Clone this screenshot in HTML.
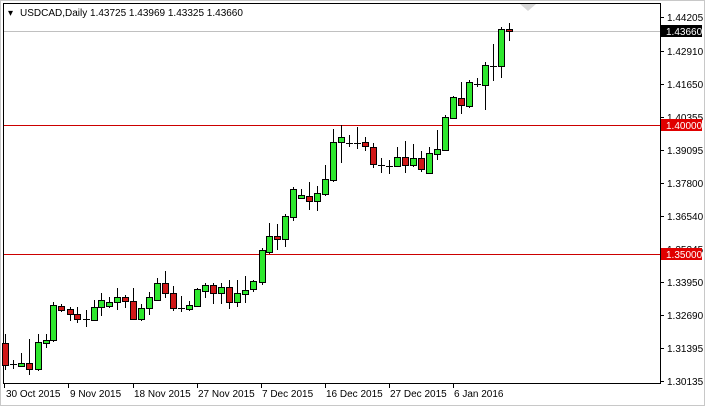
<!DOCTYPE html>
<html><head><style>
body{margin:0;background:#fff;}
svg{display:block;font-family:"Liberation Sans",sans-serif;}
.g{fill:#2ee82e}.r{fill:#d01818}
</style></head><body>
<svg width="705" height="406" xmlns="http://www.w3.org/2000/svg">
<rect x="0" y="0" width="705" height="406" fill="#fff"/>
<rect x="0.5" y="0.5" width="704" height="405" fill="none" stroke="#c8c8c8"/>
<line x1="3.5" y1="3" x2="3.5" y2="383" stroke="#000"/>
<line x1="3" y1="3.5" x2="661" y2="3.5" stroke="#000"/>
<line x1="660.5" y1="3" x2="660.5" y2="384" stroke="#000"/>
<line x1="3" y1="383.5" x2="661" y2="383.5" stroke="#000"/>
<polygon points="520,4 536,4 528,11" fill="#d8d8d8"/>
<text x="8" y="16" font-size="10" fill="#000">▾</text>
<text x="20" y="16" font-size="10" fill="#000">USDCAD,Daily  1.43725 1.43969 1.43325 1.43660</text>
<line x1="4" y1="31.5" x2="660" y2="31.5" stroke="#c0c0c0"/>
<line x1="4" y1="125.5" x2="660" y2="125.5" stroke="#cc0000"/>
<line x1="4" y1="254.5" x2="660" y2="254.5" stroke="#cc0000"/>
<g stroke="#000" stroke-width="1">
<path d="M5.5 334V370M13.5 360V369M21.5 353V367M29.5 339V375M38.5 334V371M46.5 334V348M53.5 302V342M61.5 304V312M70.5 307V321M77.5 307V323M86.5 310V327M94.5 300V320M101.5 293V316M109.5 297V308M117.5 288V310M125.5 295V308M133.5 288V320M141.5 304V321M149.5 292V315M157.5 278V300M165.5 271V298M173.5 286V311M181.5 296V312M189.5 301V311M197.5 288V306M205.5 283V298M213.5 283V304M221.5 283V304M229.5 280V309M237.5 280V307M245.5 276V303M253.5 280V292M262.5 248V285M269.5 223V254M277.5 224V250M285.5 214V247M293.5 187V221M301.5 189V199M309.5 182V210M317.5 186V211M325.5 165V196M333.5 129V182M341.5 125V163M349.5 135V147M357.5 127V149M365.5 137V151M373.5 143V168M381.5 158V173M389.5 160V174M397.5 147V167M405.5 141V173M413.5 144V167M421.5 151V172M429.5 147V174M437.5 130V160M445.5 115V151M453.5 96V119M461.5 82V114M469.5 80V108M477.5 78V87M485.5 62V110M493.5 44V81M501.5 27V78M509.5 23V41"/>
<path d="M10 364.5H17M83 319.5H90M178 308.5H185M346 143.5H353M354 143.5H361M378 165.5H385M386 166.5H393M474 84.5H481M490 66.5H497"/>
<rect class="r" x="2.5" y="343.5" width="6" height="22"/>
<rect class="g" x="18.5" y="363.5" width="6" height="3"/>
<rect class="r" x="26.5" y="363.5" width="6" height="6"/>
<rect class="g" x="35.5" y="342.5" width="6" height="27"/>
<rect class="g" x="43.5" y="340.5" width="6" height="3"/>
<rect class="g" x="50.5" y="305.5" width="6" height="35"/>
<rect class="r" x="58.5" y="306.5" width="6" height="4"/>
<rect class="r" x="67.5" y="309.5" width="6" height="5"/>
<rect class="r" x="74.5" y="314.5" width="6" height="5"/>
<rect class="g" x="91.5" y="307.5" width="6" height="13"/>
<rect class="g" x="98.5" y="300.5" width="6" height="7"/>
<rect class="g" x="106.5" y="302.5" width="6" height="4"/>
<rect class="g" x="114.5" y="297.5" width="6" height="5"/>
<rect class="r" x="122.5" y="297.5" width="6" height="4"/>
<rect class="r" x="130.5" y="301.5" width="6" height="18"/>
<rect class="g" x="138.5" y="308.5" width="6" height="11"/>
<rect class="g" x="146.5" y="297.5" width="6" height="11"/>
<rect class="g" x="154.5" y="283.5" width="6" height="17"/>
<rect class="r" x="162.5" y="283.5" width="6" height="10"/>
<rect class="r" x="170.5" y="293.5" width="6" height="15"/>
<rect class="g" x="186.5" y="305.5" width="6" height="4"/>
<rect class="g" x="194.5" y="289.5" width="6" height="17"/>
<rect class="g" x="202.5" y="285.5" width="6" height="6"/>
<rect class="r" x="210.5" y="285.5" width="6" height="8"/>
<rect class="g" x="218.5" y="287.5" width="6" height="6"/>
<rect class="r" x="226.5" y="287.5" width="6" height="15"/>
<rect class="g" x="234.5" y="293.5" width="6" height="9"/>
<rect class="g" x="242.5" y="290.5" width="6" height="4"/>
<rect class="g" x="250.5" y="281.5" width="6" height="8"/>
<rect class="g" x="259.5" y="250.5" width="6" height="32"/>
<rect class="g" x="266.5" y="236.5" width="6" height="16"/>
<rect class="r" x="274.5" y="236.5" width="6" height="3"/>
<rect class="g" x="282.5" y="216.5" width="6" height="23"/>
<rect class="g" x="290.5" y="189.5" width="6" height="28"/>
<rect class="g" x="298.5" y="195.5" width="6" height="3"/>
<rect class="r" x="306.5" y="196.5" width="6" height="5"/>
<rect class="g" x="314.5" y="193.5" width="6" height="8"/>
<rect class="g" x="322.5" y="179.5" width="6" height="15"/>
<rect class="g" x="330.5" y="142.5" width="6" height="38"/>
<rect class="g" x="338.5" y="137.5" width="6" height="5"/>
<rect class="r" x="362.5" y="142.5" width="6" height="4"/>
<rect class="r" x="370.5" y="147.5" width="6" height="17"/>
<rect class="g" x="394.5" y="157.5" width="6" height="9"/>
<rect class="r" x="402.5" y="157.5" width="6" height="8"/>
<rect class="g" x="410.5" y="158.5" width="6" height="7"/>
<rect class="r" x="418.5" y="158.5" width="6" height="11"/>
<rect class="g" x="426.5" y="153.5" width="6" height="20"/>
<rect class="g" x="434.5" y="149.5" width="6" height="5"/>
<rect class="g" x="442.5" y="117.5" width="6" height="33"/>
<rect class="g" x="450.5" y="97.5" width="6" height="21"/>
<rect class="r" x="458.5" y="98.5" width="6" height="7"/>
<rect class="g" x="466.5" y="82.5" width="6" height="24"/>
<rect class="g" x="482.5" y="65.5" width="6" height="20"/>
<rect class="g" x="498.5" y="29.5" width="6" height="37"/>
<rect class="r" x="506.5" y="29.5" width="6" height="2"/>
</g>
<g font-size="10" fill="#000">
<g stroke="#000"><line x1="660" y1="17.5" x2="664" y2="17.5"/><line x1="660" y1="51.5" x2="664" y2="51.5"/><line x1="660" y1="84.5" x2="664" y2="84.5"/><line x1="660" y1="117.5" x2="664" y2="117.5"/><line x1="660" y1="150.5" x2="664" y2="150.5"/><line x1="660" y1="183.5" x2="664" y2="183.5"/><line x1="660" y1="216.5" x2="664" y2="216.5"/><line x1="660" y1="282.5" x2="664" y2="282.5"/><line x1="660" y1="315.5" x2="664" y2="315.5"/><line x1="660" y1="348.5" x2="664" y2="348.5"/><line x1="660" y1="381.5" x2="664" y2="381.5"/></g>
<text x="667" y="21">1.44205</text>
<text x="667" y="55">1.42910</text>
<text x="667" y="88">1.41650</text>
<text x="667" y="121">1.40355</text>
<text x="667" y="154">1.39095</text>
<text x="667" y="187">1.37800</text>
<text x="667" y="220">1.36540</text>
<text x="667" y="253">1.35245</text>
<text x="667" y="286">1.33950</text>
<text x="667" y="319">1.32690</text>
<text x="667" y="352">1.31395</text>
<text x="667" y="385">1.30135</text>
<rect x="661" y="25" width="41" height="12" fill="#000"/>
<text x="666" y="35" fill="#fff">1.43660</text>
<rect x="661" y="119" width="41" height="12" fill="#e00000"/>
<text x="666" y="129" fill="#fff">1.40000</text>
<rect x="661" y="248" width="41" height="12" fill="#e00000"/>
<text x="666" y="258" fill="#fff">1.35000</text>
<g stroke="#000"><line x1="4.5" y1="383" x2="4.5" y2="388"/><line x1="68.5" y1="383" x2="68.5" y2="388"/><line x1="133.5" y1="383" x2="133.5" y2="388"/><line x1="197.5" y1="383" x2="197.5" y2="388"/><line x1="261.5" y1="383" x2="261.5" y2="388"/><line x1="325.5" y1="383" x2="325.5" y2="388"/><line x1="389.5" y1="383" x2="389.5" y2="388"/><line x1="453.5" y1="383" x2="453.5" y2="388"/></g>
<text x="6" y="397">30 Oct 2015</text>
<text x="70" y="397">9 Nov 2015</text>
<text x="134" y="397">18 Nov 2015</text>
<text x="198" y="397">27 Nov 2015</text>
<text x="262" y="397">7 Dec 2015</text>
<text x="326" y="397">16 Dec 2015</text>
<text x="390" y="397">27 Dec 2015</text>
<text x="454" y="397">6 Jan 2016</text>
</g>
</svg>
</body></html>
